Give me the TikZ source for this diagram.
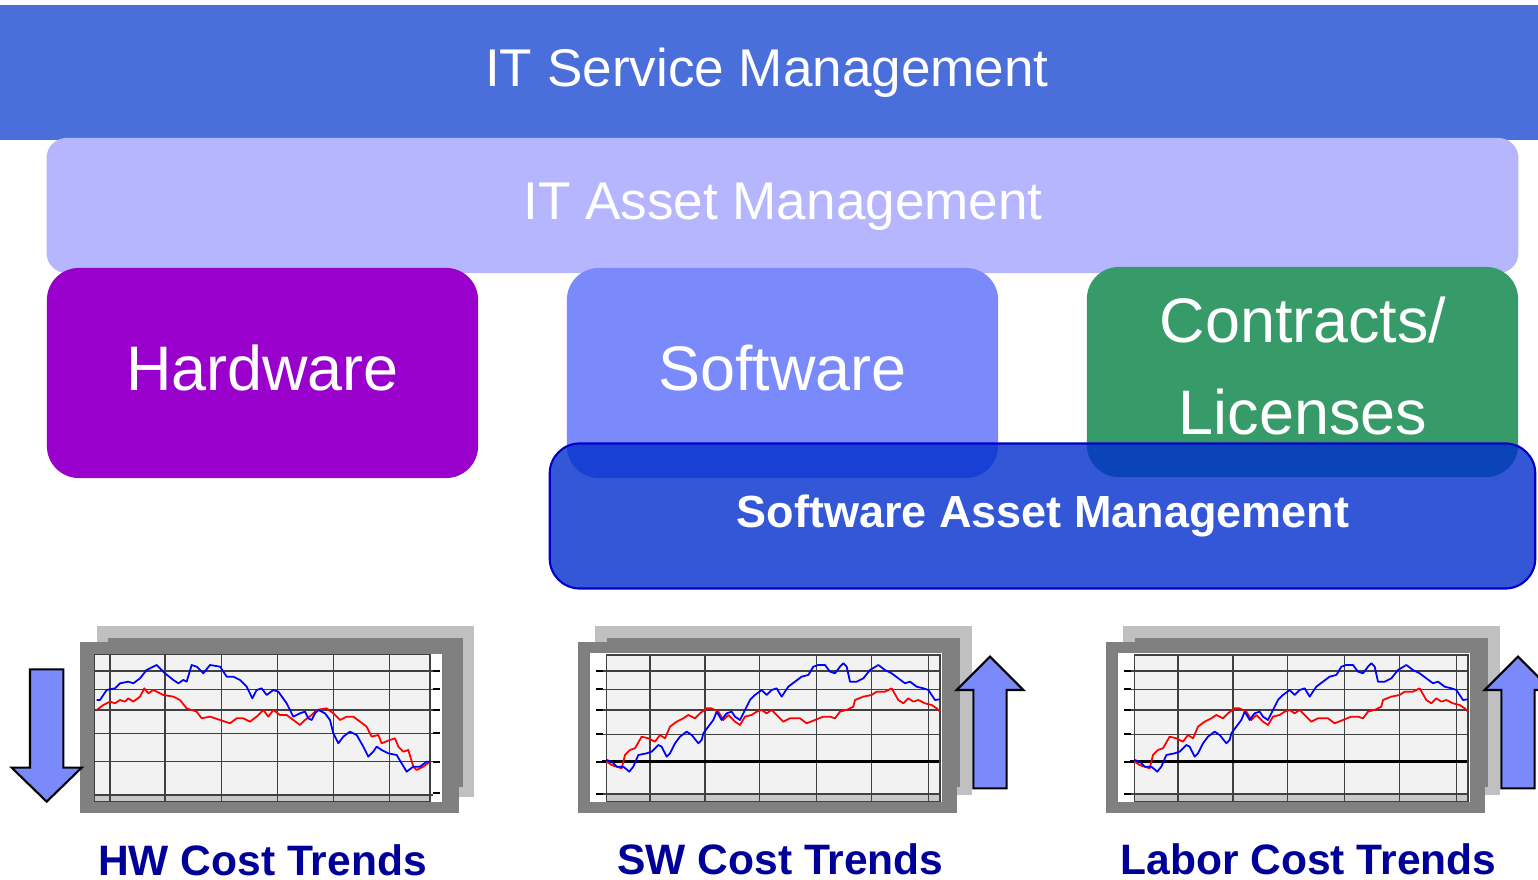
\documentclass[tikz,border=0pt]{standalone}
\usepackage{fontspec}
\setmainfont{Liberation Sans}
\usepackage{xcolor}
\usetikzlibrary{calc}
\definecolor{itsmblue}{RGB}{74,111,219}
\definecolor{itamlav}{RGB}{181,182,254}
\definecolor{hwpurple}{RGB}{153,0,204}
\definecolor{swblue}{RGB}{122,138,250}
\definecolor{licgreen}{RGB}{55,155,105}
\definecolor{samblue}{RGB}{0,46,204}
\definecolor{samline}{RGB}{0,0,200}
\definecolor{trendnavy}{RGB}{0,0,153}
\definecolor{framegray}{RGB}{128,128,128}
\definecolor{backgray}{RGB}{192,192,192}
\definecolor{plotgray}{RGB}{242,242,242}
\definecolor{bandgray}{RGB}{200,200,200}
% chart of the SW / labor kind, #1 = shift of its 1/3 scale frame
\newcommand{\trendchart}[1]{%
\begin{scope}[shift={#1}, scale=1/3]
\fill[backgray] (75,18) rectangle (1205,525);
\fill[framegray] (110,55) rectangle (1170,500);
\fill[framegray] (25,65) rectangle (1160,580);
\fill[white] (60,100) rectangle (1115,545);
\fill[plotgray] (110,105) rectangle (1110,525);
\fill[bandgray] (110,525) rectangle (1110,545);
\foreach \gx in {240,405,568,740,905,1075}
  \draw[gridline] (\gx,105) -- (\gx,545);
\foreach \gy in {153,208,270,343,522}
  \draw[gridline] (95,\gy) -- (1110,\gy);
\foreach \gy in {153,208,270,343,425,522}
  \draw[ticklabel] (78,\gy) -- (100,\gy);
\draw[black, line width=0.7pt] (95,425) -- (1110,425);
\draw[gridline] (110,105) rectangle (1110,545);
\draw[redline] plot coordinates {(110,425) (125,435) (140,440) (155,445) (165,405) (180,390) (195,385) (215,350) (235,355) (255,365) (270,345) (285,355) (300,320) (320,305) (340,295) (355,285) (375,295) (390,280) (410,265) (425,265) (445,275) (460,300) (475,285) (495,305) (510,315) (525,290) (545,285) (560,275) (575,270) (590,280) (605,270) (620,285) (640,305) (660,295) (690,295) (710,310) (735,300) (760,290) (780,290) (795,295) (810,275) (830,270) (850,260) (855,240) (880,230) (905,225) (920,215) (945,215) (965,205) (985,240) (1000,250) (1015,235) (1030,245) (1045,240) (1065,250) (1085,255) (1100,265) (1110,275)};
\draw[blueline] plot coordinates {(110,420) (125,425) (140,440) (160,440) (178,455) (190,440) (205,405) (230,400) (245,395) (265,375) (275,380) (290,410) (300,400) (315,370) (330,350) (350,335) (365,345) (385,370) (395,360) (400,340) (415,320) (430,300) (440,275) (455,300) (470,280) (485,275) (495,290) (510,300) (525,270) (540,240) (555,225) (575,210) (590,225) (605,210) (620,205) (635,230) (655,200) (675,185) (695,170) (715,165) (730,140) (745,135) (765,135) (780,155) (795,160) (810,140) (820,130) (830,140) (840,185) (860,185) (880,175) (900,150) (925,135) (945,150) (965,160) (985,175) (1005,190) (1020,185) (1040,200) (1060,205) (1075,210) (1095,240) (1110,238)};
\draw[costarrow] (1210,505) -- (1310,505) -- (1310,210) -- (1360,210) -- (1260,110) -- (1160,210) -- (1210,210) -- cycle;
\end{scope}}

\begin{document}
\begin{tikzpicture}[x=0.01cm, y=-0.01cm]
\tikzset{layer/.style={inner sep=0pt, outer sep=0pt, draw=none}}
\tikzstyle{tilebox} = [layer, minimum width=4.31cm, minimum height=2.1cm, rounded corners=0.32cm]
\tikzstyle{bandtext} = [text=white, font=\fontsize{15.1}{18}\selectfont, anchor=base]
\tikzstyle{tiletext} = [text=white, font=\fontsize{17.9}{26.2}\selectfont, anchor=base]
\tikzstyle{trendtext} = [text=trendnavy, font=\fontsize{12.1}{14}\selectfont\bfseries, anchor=base, inner sep=0pt]
\tikzstyle{gridline} = [black!75, line width=0.35pt]
\tikzstyle{ticklabel} = [black, line width=0.6pt]
\tikzstyle{redline} = [red, line width=0.5pt, line join=round]
\tikzstyle{blueline} = [blue, line width=0.5pt, line join=round]
\tikzstyle{costarrow} = [fill=swblue, draw=black, line width=0.6pt, line join=miter]
\clip (0,0) rectangle (1538,880);
\fill[white] (0,0) rectangle (1538,880);

\node[layer, fill=itsmblue, minimum width=15.38cm, minimum height=1.35cm] (itsm) at (769,72.5) {};
\node[bandtext] (v1) at (767,87) {IT Service Management};
\node[layer, fill=itamlav, minimum width=14.71cm, minimum height=1.35cm, rounded corners=0.2cm] (itam) at (782.5,205.5) {};
\node[bandtext] (v2) at (783,220) {IT Asset Management};

\node[tilebox, fill=hwpurple] (hw) at (262.5,373) {};
\node[tiletext] (v3) at (262.5,391) {Hardware};
\node[tilebox, fill=swblue] (sw) at (782.5,373) {};
\node[tiletext] (v4) at (782.5,391) {Software};
\node[tilebox, fill=licgreen] (lic) at (1302.5,372) {};
\node[tiletext] (v5) at (1303,343) {Contracts/};
\node[tiletext] (v6) at (1303,435) {Licenses};

\node[layer, fill=samblue, fill opacity=0.8, draw=samline, line width=0.6pt, minimum width=9.85cm, minimum height=1.45cm, rounded corners=0.3cm] (sam) at (1042.5,516) {};
\node[text=white, font=\fontsize{12.8}{15}\selectfont\bfseries, anchor=base] (v7) at (1043,528) {Software Asset Management};

% hardware chart, falling
\begin{scope}[shift={(0,620)}, scale=1/3]
\fill[backgray] (290,18) rectangle (1423,530);
\fill[framegray] (325,55) rectangle (1390,500);
\fill[framegray] (240,65) rectangle (1378,580);
\fill[white] (283,103) rectangle (1325,545);
\fill[plotgray] (283,103) rectangle (1290,525);
\fill[bandgray] (283,525) rectangle (1290,545);
\foreach \gx in {330,495,665,833,1000,1168}
  \draw[gridline] (\gx,103) -- (\gx,545);
\foreach \gy in {153,208,270,340,425,525}
  \draw[gridline] (283,\gy) -- (1300,\gy);
\foreach \gy in {153,208,270,340,425,520}
  \draw[ticklabel] (1298,\gy) -- (1320,\gy);
\draw[gridline] (283,103) rectangle (1290,545);
\draw[redline] plot coordinates {(290,270) (310,255) (330,245) (345,250) (360,240) (375,245) (385,235) (400,245) (420,230) (433,205) (445,220) (460,210) (490,225) (520,230) (540,240) (560,265) (590,275) (605,295) (630,290) (660,300) (690,310) (710,295) (730,295) (750,305) (770,290) (790,270) (805,290) (820,270) (840,285) (860,285) (880,300) (900,315) (915,300) (935,285) (950,270) (980,265) (1000,280) (1020,300) (1040,290) (1060,290) (1080,305) (1100,320) (1115,350) (1135,345) (1145,370) (1170,360) (1185,355) (1195,380) (1210,395) (1225,390) (1240,440) (1250,450) (1270,440) (1290,425)};
\draw[blueline] plot coordinates {(290,240) (300,240) (320,210) (345,205) (360,190) (385,185) (400,190) (420,175) (440,150) (470,135) (495,160) (520,180) (535,190) (550,180) (560,185) (575,135) (590,140) (610,160) (630,135) (660,140) (680,170) (700,170) (720,180) (740,200) (757,235) (770,210) (785,205) (800,225) (820,210) (835,215) (860,250) (880,290) (900,280) (915,275) (925,295) (935,300) (945,280) (955,270) (975,280) (990,300) (1000,340) (1015,370) (1030,350) (1050,335) (1070,345) (1090,380) (1105,410) (1120,395) (1130,380) (1145,390) (1165,400) (1190,405) (1205,430) (1220,455) (1240,440) (1260,440) (1280,425) (1290,425)};
\draw[costarrow] (90,148) -- (190,148) -- (190,443) -- (245,443) -- (140,545) -- (35,443) -- (90,443) -- cycle;
\end{scope}

% software and labor charts, rising
\trendchart{(570,620)}
\trendchart{(1098,620)}

\node[trendtext] (hwtrend) at (262.5,876) {HW Cost Trends};
\node[trendtext] (swtrend) at (780.5,875) {SW Cost Trends};
\node[trendtext] (labtrend) at (1308.5,875) {Labor Cost Trends};
\end{tikzpicture}
\end{document}
